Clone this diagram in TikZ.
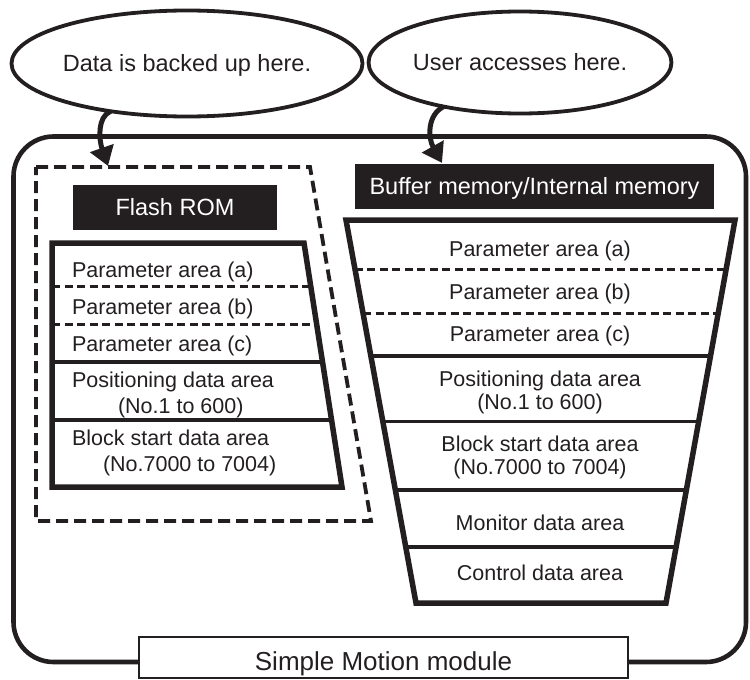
\documentclass[tikz,border=0pt]{standalone}
\usepackage{fontspec}
\setmainfont{Liberation Sans}
\usetikzlibrary{arrows.meta,shapes.geometric,calc}
\definecolor{ink}{RGB}{35,31,32}
\begin{document}
\begin{tikzpicture}[x=1pt,y=-1pt,
  every node/.style={text=ink,inner sep=0pt,outer sep=0pt},
  big/.style={font=\fontsize{23.5}{25}\selectfont},
  small/.style={font=\fontsize{21.5}{24}\selectfont},
  bubble/.style={ellipse,draw=ink,line width=3.8pt,big,text height=16.8pt,text depth=0pt},
  blackhead/.style={fill=ink,text=white,big,text height=16.8pt,text depth=0pt,minimum height=45pt},
  frame/.style={draw=ink,line width=5.5pt,line join=miter},
  solidrow/.style={draw=ink,line width=3.2pt},
  dashrow/.style={draw=ink,line width=3pt,dash pattern=on 8pt off 4.5pt},
  backup/.style={draw=ink,line width=3.8pt,dash pattern=on 12pt off 6pt},
  bentarrow/.style={draw=ink,line width=5pt,-{Triangle[length=19pt,width=24pt]}},
  rowtext/.style={small,anchor=base},
  leftrowtext/.style={small,anchor=base west}
]
\useasboundingbox (0,0) rectangle (750,680);

% module frame
\draw[draw=ink,line width=4.6pt,rounded corners=40pt] (13.5,136.5) rectangle (746,662);
\node[draw=ink,line width=1.8pt,fill=white,minimum width=489pt,minimum height=41pt,font=\fontsize{26}{28}\selectfont,text height=25pt,text depth=0pt] (mod) at (383.5,657.5) {Simple Motion module};

% bubbles
\node[bubble,minimum width=272pt,minimum height=106pt] (e1) at (187,63.5) {Data is backed up here.};
\node[bubble,minimum width=266pt,minimum height=102pt] (e2) at (520,62.5) {User accesses here.};

% backup area (dashed)
\coordinate (b1) at (36,167);
\coordinate (b2) at (310,167);
\coordinate (b3) at (371,521);
\coordinate (b4) at (36,521);
\draw[backup] (b1) -- (b2) -- (b3) -- (b4) -- cycle;

% Flash ROM header
\node[blackhead,minimum width=204pt] (flash) at (175,207.5) {Flash ROM};

% Flash ROM table
\coordinate (ftl) at (52,243);
\coordinate (ftr) at (304,243);
\coordinate (fbr) at (342,487);
\coordinate (fbl) at (52,487);
\draw[dashrow] ($(ftl)!0.180!(fbl)$) -- ($(ftr)!0.180!(fbr)$);
\draw[dashrow] ($(ftl)!0.336!(fbl)$) -- ($(ftr)!0.336!(fbr)$);
\draw[solidrow] ($(ftl)!0.488!(fbl)$) -- ($(ftr)!0.488!(fbr)$);
\draw[solidrow] ($(ftl)!0.725!(fbl)$) -- ($(ftr)!0.725!(fbr)$);
\draw[frame] (ftl) -- (ftr) -- (fbr) -- (fbl) -- cycle;

\node[leftrowtext] (fa) at (72,277) {Parameter area (a)};
\node[leftrowtext] (fb) at (72,314) {Parameter area (b)};
\node[leftrowtext] (fc) at (72,351.5) {Parameter area (c)};
\node[leftrowtext] (fp1) at (72,387) {Positioning data area};
\node[leftrowtext] (fp2) at (118,413) {(No.1 to 600)};
\node[leftrowtext] (fs1) at (72,445) {Block start data area};
\node[leftrowtext] (fs2) at (103,471.5) {(No.7000 to 7004)};

% Buffer memory header
\node[blackhead,minimum width=359pt] (buf) at (534.5,186.5) {Buffer memory/Internal memory};

% Buffer memory table
\coordinate (btl) at (346,220);
\coordinate (btr) at (735,220);
\coordinate (bbr) at (666,603);
\coordinate (bbl) at (416,603);
\draw[dashrow] ($(btl)!0.128!(bbl)$) -- ($(btr)!0.128!(bbr)$);
\draw[dashrow] ($(btl)!0.245!(bbl)$) -- ($(btr)!0.245!(bbr)$);
\draw[solidrow] ($(btl)!0.355!(bbl)$) -- ($(btr)!0.355!(bbr)$);
\draw[solidrow] ($(btl)!0.527!(bbl)$) -- ($(btr)!0.527!(bbr)$);
\draw[solidrow] ($(btl)!0.705!(bbl)$) -- ($(btr)!0.705!(bbr)$);
\draw[solidrow] ($(btl)!0.854!(bbl)$) -- ($(btr)!0.854!(bbr)$);
\draw[frame] (btl) -- (btr) -- (bbr) -- (bbl) -- cycle;

\node[rowtext] (ba) at (540,256) {Parameter area (a)};
\node[rowtext] (bb) at (540,299.5) {Parameter area (b)};
\node[rowtext] (bc) at (540,341.5) {Parameter area (c)};
\node[rowtext] (bp1) at (540,386) {Positioning data area};
\node[rowtext] (bp2) at (540,409) {(No.1 to 600)};
\node[rowtext] (bs1) at (540,451.5) {Block start data area};
\node[rowtext] (bs2) at (540,474.5) {(No.7000 to 7004)};
\node[rowtext] (bm) at (540,530.5) {Monitor data area};
\node[rowtext] (bcd) at (540,580.5) {Control data area};

% arrows
\coordinate (t1) at (108,166);
\coordinate (t2) at (442,163);
\draw[bentarrow] (e1.212) .. controls (97,117) and (99,140) .. (t1);
\draw[bentarrow] (e2.210) .. controls (427,115) and (428,138) .. (t2);
\end{tikzpicture}
\end{document}
